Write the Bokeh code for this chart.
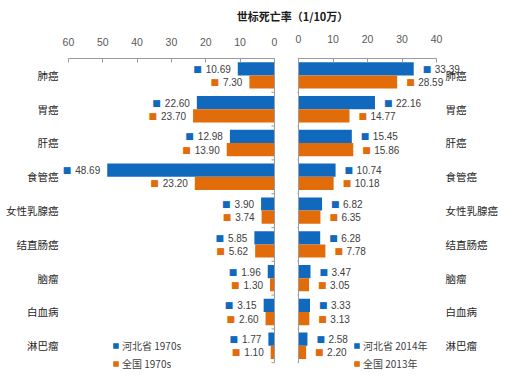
import math
from bokeh.plotting import figure
from bokeh.layouts import column, row
from bokeh.models import (ColumnDataSource, Range1d, FixedTicker,
                          Legend, LegendItem, Label, LinearAxis)
from bokeh.core.properties import value
from bokeh.embed import file_html
from bokeh.resources import INLINE
from bokeh.core.validation import silence
from bokeh.core.validation.warnings import MISSING_RENDERERS

silence(MISSING_RENDERERS, True)

# ---------------- data ----------------
title_text = "世标死亡率（1/10万）"
categories = ["肺癌", "胃癌", "肝癌", "食管癌", "女性乳腺癌", "结直肠癌", "脑瘤", "白血病", "淋巴瘤"]
hebei_1970s = [10.69, 22.60, 12.98, 48.69, 3.90, 5.85, 1.96, 3.15, 1.77]
china_1970s = [7.30, 23.70, 13.90, 23.20, 3.74, 5.62, 1.30, 2.60, 1.10]
hebei_2014 = [33.39, 22.16, 15.45, 10.74, 6.82, 6.28, 3.47, 3.33, 2.58]
china_2013 = [28.59, 14.77, 15.86, 10.18, 6.35, 7.78, 3.05, 3.13, 2.20]
left_ticks = [60, 50, 40, 30, 20, 10, 0]
right_ticks = [0, 10, 20, 30, 40]
left_names = ["河北省 1970s", "全国 1970s"]
right_names = ["河北省 2014年", "全国 2013年"]

BLUE = "#1169BE"
ORANGE = "#E36C0A"
TXT = "#404040"
AX = "#9A9A9A"
NUMF = value("Liberation Sans")
CJK = "Noto Sans CJK SC"

n = len(categories)
centers = [i + 0.5 for i in range(n)]
bounds = list(range(n + 1))
BAR_H = 0.39
OFF = 0.195
Y_PAD = 0.35   # extra room below the last category for the legends
FIG_H = 356


def num_width(s, fs=10):
    # approximate rendered width of a number string in Liberation Sans
    return sum(0.278 * fs if ch == "." else 0.556 * fs for ch in s)


def make_panel(vals_a, vals_b, xr, ticks, width, mb_left, mb_right, mb_top, mb_bottom,
               side, std_top):
    p = figure(width=width, height=FIG_H, x_range=xr, y_range=Range1d(n + Y_PAD, 0),
               x_axis_location="above", y_axis_location=None,
               toolbar_location=None, output_backend="svg",
               min_border_left=mb_left, min_border_right=mb_right,
               min_border_top=mb_top, min_border_bottom=mb_bottom)
    p.outline_line_color = None
    p.xgrid.visible = False
    p.ygrid.visible = False

    xa = p.xaxis[0]
    xa.ticker = FixedTicker(ticks=ticks)
    xa.bounds = (min(ticks), max(ticks))
    xa.axis_line_color = AX
    xa.major_tick_line_color = AX
    xa.major_tick_in = 4
    xa.major_tick_out = 0
    xa.minor_tick_line_color = None
    xa.major_label_standoff = std_top
    xa.major_label_text_font = "Liberation Sans"
    xa.major_label_text_font_size = "10.5px"
    xa.major_label_text_color = "#595959"

    lbls_a = [f"{v:.2f}" for v in vals_a]
    lbls_b = [f"{v:.2f}" for v in vals_b]
    src_a = ColumnDataSource(dict(y=[c - OFF for c in centers], v=vals_a, lbl=lbls_a))
    src_b = ColumnDataSource(dict(y=[c + OFF for c in centers], v=vals_b, lbl=lbls_b))

    ra = p.hbar(y="y", left=0, right="v", height=BAR_H, source=src_a,
                fill_color=BLUE, line_color=None)
    rb = p.hbar(y="y", left=0, right="v", height=BAR_H, source=src_b,
                fill_color=ORANGE, line_color=None)

    for src, col, labs in ((src_a, BLUE, lbls_a), (src_b, ORANGE, lbls_b)):
        if side == "left":
            src.data["mo"] = [-(7 + num_width(s) + 4) for s in labs]
            p.text(x="v", y="y", text="lbl", source=src, x_offset=-7,
                   text_align="right", text_baseline="middle",
                   text_font=NUMF, text_font_size="10px", text_color=TXT)
            p.text(x="v", y="y", text=value("■"), source=src, x_offset="mo",
                   text_align="right", text_baseline="middle",
                   text_font=value("DejaVu Sans"), text_font_size="9px", text_color=col)
        else:
            p.text(x="v", y="y", text=value("■"), source=src, x_offset=9,
                   text_align="left", text_baseline="middle",
                   text_font=value("DejaVu Sans"), text_font_size="9px", text_color=col)
            p.text(x="v", y="y", text="lbl", source=src, x_offset=21,
                   text_align="left", text_baseline="middle",
                   text_font=NUMF, text_font_size="10px", text_color=TXT)

    # zero axis line with small ticks between categories
    p.segment(x0=0, y0=bounds[0], x1=0, y1=bounds[-1], line_color=AX, line_width=1)
    p.ray(x=0, y=bounds, length=3, length_units="screen", angle=math.pi,
          line_color=AX, line_width=1)

    if side == "left":
        cat_ax = LinearAxis(ticker=FixedTicker(ticks=centers),
                            major_label_overrides={c: name for c, name in zip(centers, categories)},
                            axis_line_color=None, major_tick_line_color=None,
                            minor_tick_line_color=None,
                            major_tick_in=0, major_tick_out=0,
                            major_label_standoff=2,
                            major_label_text_font=CJK,
                            major_label_text_font_size="10.5px",
                            major_label_text_color="#262626")
        p.add_layout(cat_ax, "left")
    else:
        csrc = ColumnDataSource(dict(y=centers, name=categories,
                                     x=[max(ticks)] * n))
        p.text(x="x", y="y", text="name", source=csrc, x_offset=9,
               text_align="left", text_baseline="middle",
               text_font=value(CJK), text_font_size="10.5px", text_color="#262626")
    return p, ra, rb


left, la, lb = make_panel(hebei_1970s, china_1970s, Range1d(62.3, -0.3), left_ticks,
                          286, 60, 11, 28, FIG_H - 346, "left", 13)
right, rra, rrb = make_panel(hebei_2014, china_2013, Range1d(-0.3, 62.6), right_ticks,
                             235, 11, 7, 26, FIG_H - 344, "right", 16)


def add_legend(p, ra, rb, names, loc):
    lg = Legend(items=[LegendItem(label=names[0], renderers=[ra]),
                       LegendItem(label=names[1], renderers=[rb])],
                location=loc, orientation="vertical",
                glyph_width=7, glyph_height=7, label_standoff=3,
                label_height=18, spacing=0, padding=0, margin=0,
                border_line_color=None, background_fill_alpha=0,
                label_text_font=CJK, label_text_font_size="10px",
                label_text_color=TXT)
    p.add_layout(lg, "center")


add_legend(left, la, lb, left_names, (52, 2))
add_legend(right, rra, rrb, right_names, (56, 2))

# title strip
tp = figure(width=521, height=30, toolbar_location=None, output_backend="svg",
            min_border=0, x_range=Range1d(0, 1), y_range=Range1d(0, 1))
tp.axis.visible = False
tp.grid.visible = False
tp.outline_line_color = None
tp.add_layout(Label(x=292, y=15, x_units="screen", y_units="screen", text=title_text,
                    text_align="center", text_baseline="middle",
                    text_font=CJK, text_font_size="11px", text_font_style="bold",
                    text_color="#1a1a1a"))

layout = column(tp, row(left, right, spacing=0), spacing=0)

open("out.html", "w").write(file_html(layout, INLINE))
